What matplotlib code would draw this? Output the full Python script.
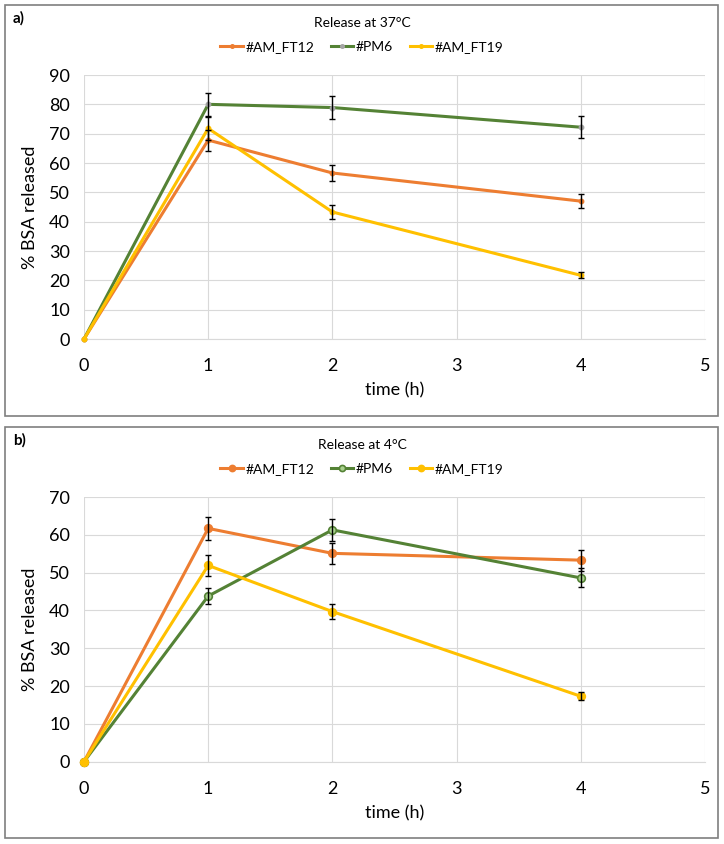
import matplotlib.pyplot as plt
from matplotlib.patches import Rectangle

plt.rcParams['font.family'] = ['Lato', 'DejaVu Sans']

time_h = [0, 1, 2, 4]
series_names = ["#AM_FT12", "#PM6", "#AM_FT19"]
colors = ["#ED7D31", "#548235", "#FFC000"]

# pannello a) 37°C
a_ft12 = [0, 67.8, 56.6, 47.0]
a_ft12_err = [0, 3.6, 2.8, 2.4]
a_pm6 = [0, 80.0, 78.9, 72.2]
a_pm6_err = [0, 4.0, 4.0, 3.7]
a_ft19 = [0, 71.8, 43.3, 21.7]
a_ft19_err = [0, 4.0, 2.3, 1.0]

# pannello b) 4°C
b_ft12 = [0, 61.7, 55.1, 53.3]
b_ft12_err = [0, 3.1, 2.8, 2.8]
b_pm6 = [0, 43.8, 61.3, 48.6]
b_pm6_err = [0, 2.2, 3.0, 2.5]
b_ft19 = [0, 51.9, 39.7, 17.3]
b_ft19_err = [0, 2.7, 2.0, 1.0]

W, H = 724, 844
fig = plt.figure(figsize=(W / 100, H / 100), dpi=100)


def fx(px):
    return px / W


def fy(py):
    return 1 - py / H


def panel(box_top, box_bot, ax_top, ax_bot, letter, title, data, ymax, big_markers):
    # cornice del pannello
    fig.patches.append(Rectangle((fx(5), fy(box_bot)), fx(718) - fx(5), fy(box_top) - fy(box_bot),
                                 transform=fig.transFigure, fill=False, edgecolor="#7F7F7F", lw=1.2))
    fig.text(fx(13), fy(box_top + 13), letter, fontsize=11, fontweight="bold", va="center")
    fig.text(fx(362), fy(box_top + 18), title, fontsize=10, ha="center", va="center")

    ax = fig.add_axes([fx(84), fy(ax_bot), fx(705) - fx(84), fy(ax_top) - fy(ax_bot)])
    handles = []
    for i, (vals, err) in enumerate(data):
        if big_markers:
            ms = 5.5
            mfc = "#A9D18E" if i == 1 else colors[i]
            mec = colors[i]
        else:
            ms = 3
            mfc = "#A5A5A5" if i == 1 else colors[i]
            mec = mfc
        ln, = ax.plot(time_h, vals, color=colors[i], lw=2.2, marker="o", ms=ms,
                      mfc=mfc, mec=mec, mew=1.2, zorder=3, label=series_names[i],
                      clip_on=False)
        ax.errorbar(time_h[1:], vals[1:], yerr=err[1:], fmt="none", ecolor="black",
                    elinewidth=1, capsize=2.5, capthick=1, zorder=4)
        handles.append(ln)

    ax.set_xlim(0, 5)
    ax.set_ylim(0, ymax)
    ax.set_xticks(range(0, 6))
    ax.set_yticks(range(0, ymax + 1, 10))
    ax.grid(True, color="#D9D9D9", lw=0.8)
    ax.set_axisbelow(True)
    for s in ["top", "right", "left"]:
        ax.spines[s].set_visible(False)
    ax.spines["bottom"].set_color("#D9D9D9")
    ax.tick_params(length=0, labelsize=13, pad=10)
    ax.tick_params(axis="x", pad=14)
    ax.set_xlabel("time (h)", fontsize=13, labelpad=6)
    ax.set_ylabel("% BSA released", fontsize=13, labelpad=8)

    fig.legend(handles=handles, loc="center", bbox_to_anchor=(fx(362), fy(box_top + 42)),
               ncol=3, frameon=False, fontsize=10, handlelength=1.6, columnspacing=1.2,
               handletextpad=0.2, markerscale=0.8)
    return ax


panel(5, 416, 75, 339, "a)", "Release at 37°C",
      [(a_ft12, a_ft12_err), (a_pm6, a_pm6_err), (a_ft19, a_ft19_err)], 90, False)
panel(427, 838, 497, 761.7, "b)", "Release at 4°C",
      [(b_ft12, b_ft12_err), (b_pm6, b_pm6_err), (b_ft19, b_ft19_err)], 70, True)

fig.savefig("out.png", dpi=100)
